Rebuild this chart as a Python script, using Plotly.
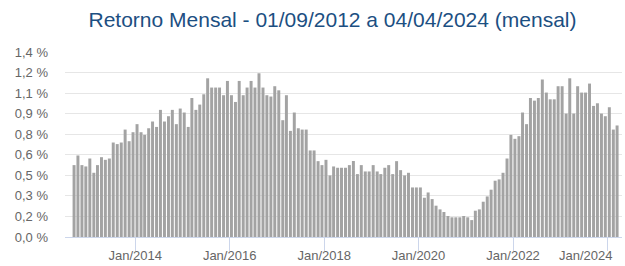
import pandas as pd
import plotly.graph_objects as go

# Monthly returns (%), Sep/2012 .. Mar/2024
start_month = "2012-09-01"
returns = [
    0.544, 0.617, 0.544, 0.534, 0.594, 0.486, 0.544, 0.604, 0.584, 0.594,
    0.715, 0.703, 0.715, 0.813, 0.725, 0.793, 0.854, 0.793, 0.773, 0.823,
    0.874, 0.833, 0.962, 0.874, 0.914, 0.962, 0.854, 0.972, 0.942, 0.833,
    1.052, 0.962, 1.002, 1.080, 1.201, 1.131, 1.131, 1.131, 1.073, 1.181,
    1.073, 1.022, 1.181, 1.073, 1.131, 1.181, 1.131, 1.239, 1.131, 1.073,
    1.063, 1.141, 1.110, 0.884, 1.073, 0.803, 0.942, 0.823, 0.813, 0.813,
    0.655, 0.655, 0.574, 0.544, 0.584, 0.466, 0.534, 0.524, 0.524, 0.524,
    0.544, 0.575, 0.476, 0.544, 0.496, 0.496, 0.544, 0.496, 0.476, 0.524,
    0.544, 0.476, 0.574, 0.506, 0.466, 0.486, 0.375, 0.375, 0.375, 0.297,
    0.337, 0.287, 0.237, 0.209, 0.189, 0.159, 0.149, 0.149, 0.149, 0.159,
    0.149, 0.128, 0.199, 0.209, 0.267, 0.307, 0.358, 0.426, 0.436, 0.486,
    0.594, 0.773, 0.743, 0.763, 0.942, 0.854, 1.052, 1.032, 1.052, 1.192,
    1.093, 1.042, 1.042, 1.141, 1.141, 0.934, 1.201, 0.934, 1.141, 1.093,
    1.093, 1.161, 0.992, 1.012, 0.934, 0.914, 0.982, 0.813, 0.844,
]
months = pd.date_range(start_month, periods=len(returns), freq="MS") + pd.Timedelta(days=14)

y_tick_vals = [k * 1.4 / 9 for k in range(10)]
y_tick_text = ["0,0 %", "0,2 %", "0,3 %", "0,5 %", "0,6 %", "0,8 %", "0,9 %", "1,1 %", "1,2 %", "1,4 %"]
x_tick_vals = ["2014-01-01", "2016-01-01", "2018-01-01", "2020-01-01", "2022-01-01", "2024-01-01"]
x_tick_text = ["Jan/2014", "Jan/2016", "Jan/2018", "Jan/2020", "Jan/2022", ""]
last_tick_label = "Jan/2024"
title_text = "Retorno Mensal - 01/09/2012 a 04/04/2024 (mensal)"

x_range = ["2012-07-07", "2024-04-22"]
label_font = dict(size=13, color="#666666", family="Liberation Sans, Arial, sans-serif")

fig = go.Figure()
fig.add_trace(
    go.Bar(
        x=months,
        y=returns,
        width=23 * 24 * 3600 * 1000,
        marker=dict(color="#a3a3a3", line=dict(width=0)),
        hoverinfo="skip",
    )
)
# empty trace so the tick-mark axis is drawn
fig.add_trace(go.Scatter(x=[], y=[], xaxis="x2", yaxis="y", showlegend=False, hoverinfo="skip"))

fig.update_layout(
    width=625,
    height=266,
    margin=dict(l=65, r=3, t=52, b=29, autoexpand=False),
    paper_bgcolor="white",
    plot_bgcolor="white",
    showlegend=False,
    font=label_font,
    title=dict(
        text=title_text,
        x=0.532,
        xanchor="center",
        y=0.925,
        yanchor="middle",
        font=dict(size=21, color="#1c4f82", family="Liberation Sans, Arial, sans-serif"),
    ),
    xaxis=dict(
        type="date",
        range=x_range,
        tickvals=x_tick_vals,
        ticktext=x_tick_text,
        ticks="outside",
        ticklen=6,
        tickwidth=1,
        tickcolor="rgba(0,0,0,0)",
        showgrid=False,
        showline=True,
        linecolor="#ccd6eb",
        linewidth=1,
        zeroline=False,
        automargin=False,
        tickfont=label_font,
    ),
    xaxis2=dict(
        type="date",
        range=x_range,
        overlaying="x",
        anchor="y",
        side="bottom",
        tickvals=x_tick_vals,
        ticks="outside",
        ticklen=13,
        tickwidth=1,
        tickcolor="#ccd6eb",
        showticklabels=False,
        showgrid=False,
        showline=False,
        zeroline=False,
        automargin=False,
    ),
    yaxis=dict(
        range=[0, 1.4],
        tickvals=y_tick_vals,
        ticktext=y_tick_text,
        showgrid=True,
        gridcolor="#e6e6e6",
        gridwidth=1,
        zeroline=False,
        showline=False,
        ticks="",
        automargin=False,
        ticklabelstandoff=16,
        tickfont=label_font,
    ),
    annotations=[
        dict(
            text=last_tick_label,
            xref="paper",
            yref="paper",
            x=(615 - 65) / 557,
            y=0,
            xanchor="right",
            yanchor="top",
            yshift=-9,
            showarrow=False,
            font=label_font,
        )
    ],
)

fig.write_html(
    "out.html",
    config={"displayModeBar": False},
    post_script="document.body.style.margin='0';document.body.style.overflow='hidden';",
)
